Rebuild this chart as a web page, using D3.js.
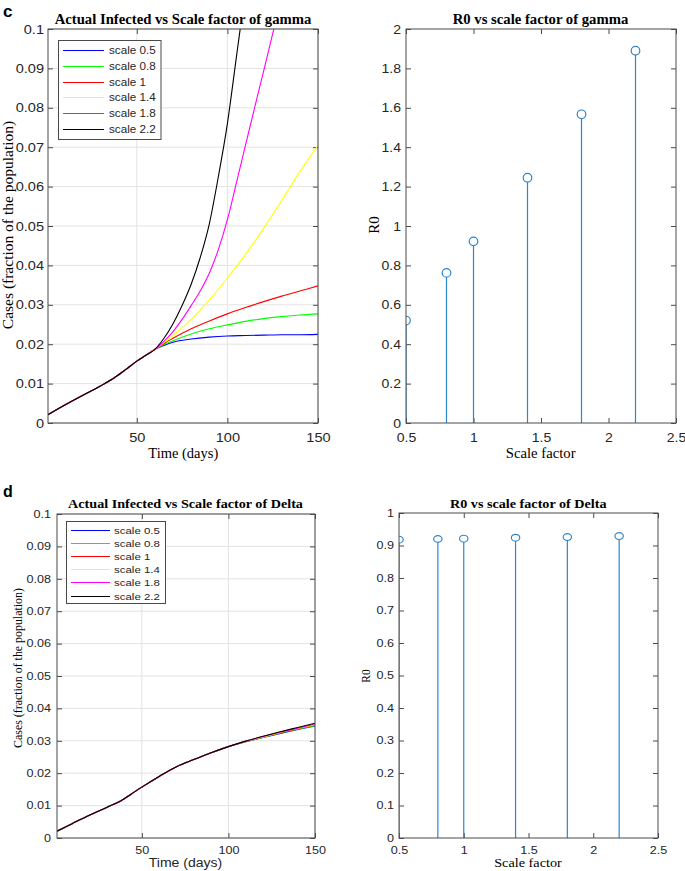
<!DOCTYPE html>
<html><head><meta charset="utf-8">
<script src="https://cdnjs.cloudflare.com/ajax/libs/d3/7.8.5/d3.min.js"></script>
<style>body{margin:0;background:#fff}svg{display:block}</style>
</head><body><svg id="c" width="685" height="871"></svg>
<script>
// ---------------- DATA ----------------
const seriesNames = ["scale 0.5","scale 0.8","scale 1","scale 1.4","scale 1.8","scale 2.2"];
const seriesColors = ["#0000ff","#00ff00","#ff0000","#ffff00","#ff00ff","#000000"];

// panel c (gamma): common part up to day 60
const gammaCommonDays  = [1,10,20,30,38,44,50,55,60];
const gammaCommonCases = [0.0021,0.0045,0.0070,0.0094,0.0116,0.0136,0.0157,0.0172,0.0187];
const gammaBranchDays  = [60,65,70,80,90,100,110,120,130,140,150];
const gammaCases05 = [0.0187,0.0197,0.0205,0.0213,0.0218,0.0221,0.0222,0.0223,0.0224,0.0224,0.0225];
const gammaCases08 = [0.0187,0.0199,0.0209,0.0226,0.0239,0.0249,0.0258,0.0265,0.0270,0.0274,0.0277];
const gammaCases10 = [0.0187,0.0202,0.0215,0.0239,0.0259,0.0277,0.0293,0.0308,0.0322,0.0335,0.0348];
const gammaCases14 = [0.0187,0.0204,0.0222,0.0263,0.0312,0.0368,0.0428,0.0494,0.0565,0.0638,0.0705];
const gammaDays18  = [60,65,70,75,80,85,90,95,100,105,110,115,120,125,130];
const gammaCases18 = [0.0187,0.0207,0.0232,0.0263,0.0298,0.0335,0.0380,0.0440,0.0516,0.0610,0.0705,0.0800,0.0893,0.0988,0.1080];
const gammaDays22  = [60,65,70,75,80,85,90,95,100,105,110];
const gammaCases22 = [0.0187,0.0215,0.0252,0.0298,0.0352,0.0420,0.0505,0.0625,0.0760,0.0930,0.1100];

// panel d (Delta)
const deltaDays   = [1,10,20,30,38,44,50,60,70,80,90,100,110,120,130,140,150];
const deltaCases05 = [0.0021,0.0045,0.0071,0.0095,0.0115,0.0136,0.0157,0.0190,0.0220,0.0242,0.0263,0.0282,0.0297,0.0310,0.0323,0.0335,0.0346];
const deltaCases08 = [0.0021,0.0045,0.0071,0.0095,0.0115,0.0136,0.0157,0.0190,0.0220,0.0242,0.0263,0.0282,0.0297,0.0311,0.0324,0.0336,0.0347];
const deltaCases10 = [0.0021,0.0045,0.0071,0.0095,0.0115,0.0136,0.0157,0.0190,0.0220,0.0242,0.0263,0.0282,0.0298,0.0312,0.0325,0.0337,0.0349];
const deltaCases14 = [0.0021,0.0045,0.0071,0.0095,0.0115,0.0136,0.0157,0.0190,0.0220,0.0242,0.0263,0.0282,0.0298,0.0312,0.0326,0.0338,0.0350];
const deltaCases18 = [0.0021,0.0045,0.0071,0.0095,0.0115,0.0136,0.0157,0.0190,0.0220,0.0242,0.0263,0.0282,0.0299,0.0313,0.0327,0.0339,0.0352];
const deltaCases22 = [0.0021,0.0045,0.0071,0.0095,0.0115,0.0136,0.0157,0.0190,0.0220,0.0242,0.0263,0.0282,0.0299,0.0314,0.0328,0.0341,0.0354];

// R0 stems
const scaleFactors = [0.5,0.8,1.0,1.4,1.8,2.2];
const r0Gamma = [0.52,0.762,0.922,1.245,1.567,1.89];
const r0Delta = [0.918,0.920,0.921,0.924,0.926,0.929];

// ticks
const dayTicks = [50,100,150];
const dayTickLabels = ["50","100","150"];
const casesTicks = [0,0.01,0.02,0.03,0.04,0.05,0.06,0.07,0.08,0.09,0.1];
const casesTickLabels = ["0","0.01","0.02","0.03","0.04","0.05","0.06","0.07","0.08","0.09","0.1"];
const scaleTicks = [0.5,1,1.5,2,2.5];
const scaleTickLabels = ["0.5","1","1.5","2","2.5"];
const r0GammaTicks = [0,0.2,0.4,0.6,0.8,1,1.2,1.4,1.6,1.8,2];
const r0GammaTickLabels = ["0","0.2","0.4","0.6","0.8","1","1.2","1.4","1.6","1.8","2"];
const r0DeltaTicks = [0,0.1,0.2,0.3,0.4,0.5,0.6,0.7,0.8,0.9,1];
const r0DeltaTickLabels = ["0","0.1","0.2","0.3","0.4","0.5","0.6","0.7","0.8","0.9","1"];

// ---------------- DRAW ----------------
const svg = d3.select("#c");
const SANS = "'Liberation Sans', Arial, sans-serif";
const SERIF = "'Liberation Serif', 'Times New Roman', serif";
const AX = "#4a4a4a", GRID = "#e3e3e3", TXT = "#262626", STEM = "#2f86cc";

function stretch(sel, f){
  sel.each(function(){
    const w = this.getComputedTextLength();
    if (w > 0){ this.setAttribute("textLength", w*f); this.setAttribute("lengthAdjust","spacingAndGlyphs"); }
  });
}

function txt(x,y,s,o){
  const t = svg.append("text").attr("x",x).attr("y",y).text(s)
    .attr("font-family",o.family).attr("font-size",o.size).attr("fill",o.fill||"#000")
    .attr("font-weight",o.weight||"normal").attr("text-anchor",o.anchor||"middle");
  if (o.rotate) t.attr("transform",`rotate(-90,${x},${y})`);
  if (o.sx) stretch(t,o.sx);
  return t;
}

let clipId = 0;
function panel(p){
  const g = svg.append("g");
  const x = d3.scaleLinear().domain(p.xDomain).range([p.left,p.right]);
  const y = d3.scaleLinear().domain(p.yDomain).range([p.bottom,p.top]);
  if (p.grid){
    g.append("g").selectAll("line").data(p.xTicks).join("line")
      .attr("x1",d=>x(d)).attr("x2",d=>x(d)).attr("y1",p.top).attr("y2",p.bottom)
      .attr("stroke",GRID).attr("stroke-width",1);
    g.append("g").selectAll("line").data(p.yTicks).join("line")
      .attr("y1",d=>y(d)).attr("y2",d=>y(d)).attr("x1",p.left).attr("x2",p.right)
      .attr("stroke",GRID).attr("stroke-width",1);
  }
  const fmtX = d => p.xLabels[p.xTicks.indexOf(d)];
  const fmtY = d => p.yLabels[p.yTicks.indexOf(d)];
  const ax = (gen, tx, ty, fmt) => {
    const a = g.append("g").attr("transform",`translate(${tx},${ty})`).call(gen.tickFormat(fmt));
    a.select(".domain").remove();
    a.selectAll("line").attr("stroke",AX);
    a.selectAll("text").attr("fill",TXT).attr("font-family",SANS).attr("font-size",p.tickSize);
    return a;
  };
  const bx = ax(d3.axisBottom(x).tickValues(p.xTicks).tickSize(-p.tl).tickPadding(p.xPad), 0, p.bottom, fmtX);
  ax(d3.axisTop(x).tickValues(p.xTicks).tickSize(-p.tl), 0, p.top, ()=> "");
  const ly = ax(d3.axisLeft(y).tickValues(p.yTicks).tickSize(-p.tl).tickPadding(p.yPad), p.left, 0, fmtY);
  ax(d3.axisRight(y).tickValues(p.yTicks).tickSize(-p.tl), p.right, 0, ()=> "");
  stretch(bx.selectAll("text"), p.tickSx);
  stretch(ly.selectAll("text"), p.tickSx);
  const id = "clip"+(clipId++);
  svg.append("clipPath").attr("id",id).append("rect")
    .attr("x",p.left).attr("y",p.top).attr("width",p.right-p.left).attr("height",p.bottom-p.top);
  const plot = g.append("g").attr("clip-path",`url(#${id})`);
  p.draw(plot,x,y);
  g.append("rect").attr("x",p.left).attr("y",p.top).attr("width",p.right-p.left).attr("height",p.bottom-p.top)
    .attr("fill","none").attr("stroke",AX).attr("stroke-width",1);
  return {g,x,y};
}

const line = (x,y)=> d3.line().x(d=>x(d[0])).y(d=>y(d[1])).curve(d3.curveMonotoneX);
const zip = (a,b)=> a.map((d,i)=>[d,b[i]]);

const common = zip(gammaCommonDays,gammaCommonCases);
const gammaSeries = [
  common.concat(zip(gammaBranchDays,gammaCases05).slice(1)),
  common.concat(zip(gammaBranchDays,gammaCases08).slice(1)),
  common.concat(zip(gammaBranchDays,gammaCases10).slice(1)),
  common.concat(zip(gammaBranchDays,gammaCases14).slice(1)),
  common.concat(zip(gammaDays18,gammaCases18).slice(1)),
  common.concat(zip(gammaDays22,gammaCases22).slice(1))
];
const deltaSeries = [deltaCases05,deltaCases08,deltaCases10,deltaCases14,deltaCases18,deltaCases22].map(v=>zip(deltaDays,v));

function linesDraw(series){
  return (plot,x,y)=>{
    plot.selectAll("path.s").data(series).join("path").attr("class","s")
      .attr("d",d=>line(x,y)(d)).attr("fill","none")
      .attr("stroke",(d,i)=>seriesColors[i]).attr("stroke-width",1.1);
  };
}
function stemsDraw(vals, rx, ry){
  return (plot,x,y)=>{
    const pts = zip(scaleFactors, vals);
    plot.selectAll("line.st").data(pts).join("line").attr("class","st")
      .attr("x1",d=>x(d[0])).attr("x2",d=>x(d[0])).attr("y1",y(0)).attr("y2",d=>y(d[1])+ry)
      .attr("stroke",STEM).attr("stroke-width",1.2);
    plot.selectAll("ellipse").data(pts).join("ellipse")
      .attr("cx",d=>x(d[0])).attr("cy",d=>y(d[1])).attr("rx",rx).attr("ry",ry)
      .attr("fill","none").attr("stroke",STEM).attr("stroke-width",1.2);
  };
}

panel({left:48,right:318,top:29,bottom:423,xDomain:[1,150],yDomain:[0,0.1],
  xTicks:dayTicks,xLabels:dayTickLabels,yTicks:casesTicks,yLabels:casesTickLabels,
  grid:true,tl:5,xPad:10,yPad:4,tickSize:13,tickSx:1.12,draw:linesDraw(gammaSeries)});

panel({left:406,right:676,top:29,bottom:423,xDomain:[0.5,2.5],yDomain:[0,2],
  xTicks:scaleTicks,xLabels:scaleTickLabels,yTicks:r0GammaTicks,yLabels:r0GammaTickLabels,
  grid:false,tl:5,xPad:10,yPad:5,tickSize:13,tickSx:1.08,draw:stemsDraw(r0Gamma,4.3,4.3)});

panel({left:57,right:315,top:514,bottom:838,xDomain:[1,150],yDomain:[0,0.1],
  xTicks:dayTicks,xLabels:dayTickLabels,yTicks:casesTicks,yLabels:casesTickLabels,
  grid:true,tl:5,xPad:8.5,yPad:6,tickSize:10,tickSx:1.26,draw:linesDraw(deltaSeries)});

panel({left:399,right:658,top:513,bottom:838,xDomain:[0.5,2.5],yDomain:[0,1],
  xTicks:scaleTicks,xLabels:scaleTickLabels,yTicks:r0DeltaTicks,yLabels:r0DeltaTickLabels,
  grid:false,tl:5,xPad:8.5,yPad:5,tickSize:10,tickSx:1.26,draw:stemsDraw(r0Delta,4.2,3.4)});

// ---- Legends
function legend(x0,y0,w,h,rowY0,dy,lx0,lx1,tx,fs,sx){
  const lg = svg.append("g");
  lg.append("rect").attr("x",x0).attr("y",y0).attr("width",w).attr("height",h)
    .attr("fill","#fff").attr("stroke",AX).attr("stroke-width",1);
  seriesNames.forEach((n,i)=>{
    const yy = Math.round(rowY0 + i*dy) + 0.5;
    lg.append("line").attr("x1",lx0).attr("x2",lx1).attr("y1",yy).attr("y2",yy)
      .attr("stroke",seriesColors[i]).attr("stroke-width",1.1);
    txt(tx, yy+fs*0.36, n, {family:SANS,size:fs,fill:TXT,anchor:"start",sx:sx});
  });
}
legend(58.5,40.5,102.5,99,50,15.75,63,104,109,11,1.06);
legend(66.5,521.5,99,82,530,13.1,71,110,114,8.7,1.32);

// ---- Titles & labels
txt(3,17,"c",{family:SANS,size:17,weight:"bold",anchor:"start"});
txt(3,497,"d",{family:SANS,size:16,weight:"bold",anchor:"start"});
txt(183,24,"Actual Infected vs Scale factor of gamma",{family:SERIF,size:14.7,weight:"bold"});
txt(540.5,24,"R0 vs scale factor of gamma",{family:SERIF,size:14.7,weight:"bold"});
txt(185.5,508,"Actual Infected vs Scale factor of Delta",{family:SERIF,size:12,weight:"bold",sx:1.18});
txt(528.3,508,"R0 vs scale factor of Delta",{family:SERIF,size:12,weight:"bold",sx:1.18});

txt(183.3,458,"Time (days)",{family:SERIF,size:14.5});
txt(540.7,458,"Scale factor",{family:SERIF,size:14.7});
txt(185.5,867,"Time (days)",{family:SANS,size:12.3,fill:TXT,sx:1.14});
txt(528,867,"Scale factor",{family:SERIF,size:12.6,sx:1.13});

txt(12.7,225,"Cases (fraction of the population)",{family:SERIF,size:15.5,rotate:true});
txt(22,668,"Cases (fraction of the population)",{family:SERIF,size:11.9,rotate:true});
txt(379,225,"R0",{family:SERIF,size:15,rotate:true});
txt(369.5,676,"R0",{family:SERIF,size:11.5,rotate:true});
</script></body></html>
